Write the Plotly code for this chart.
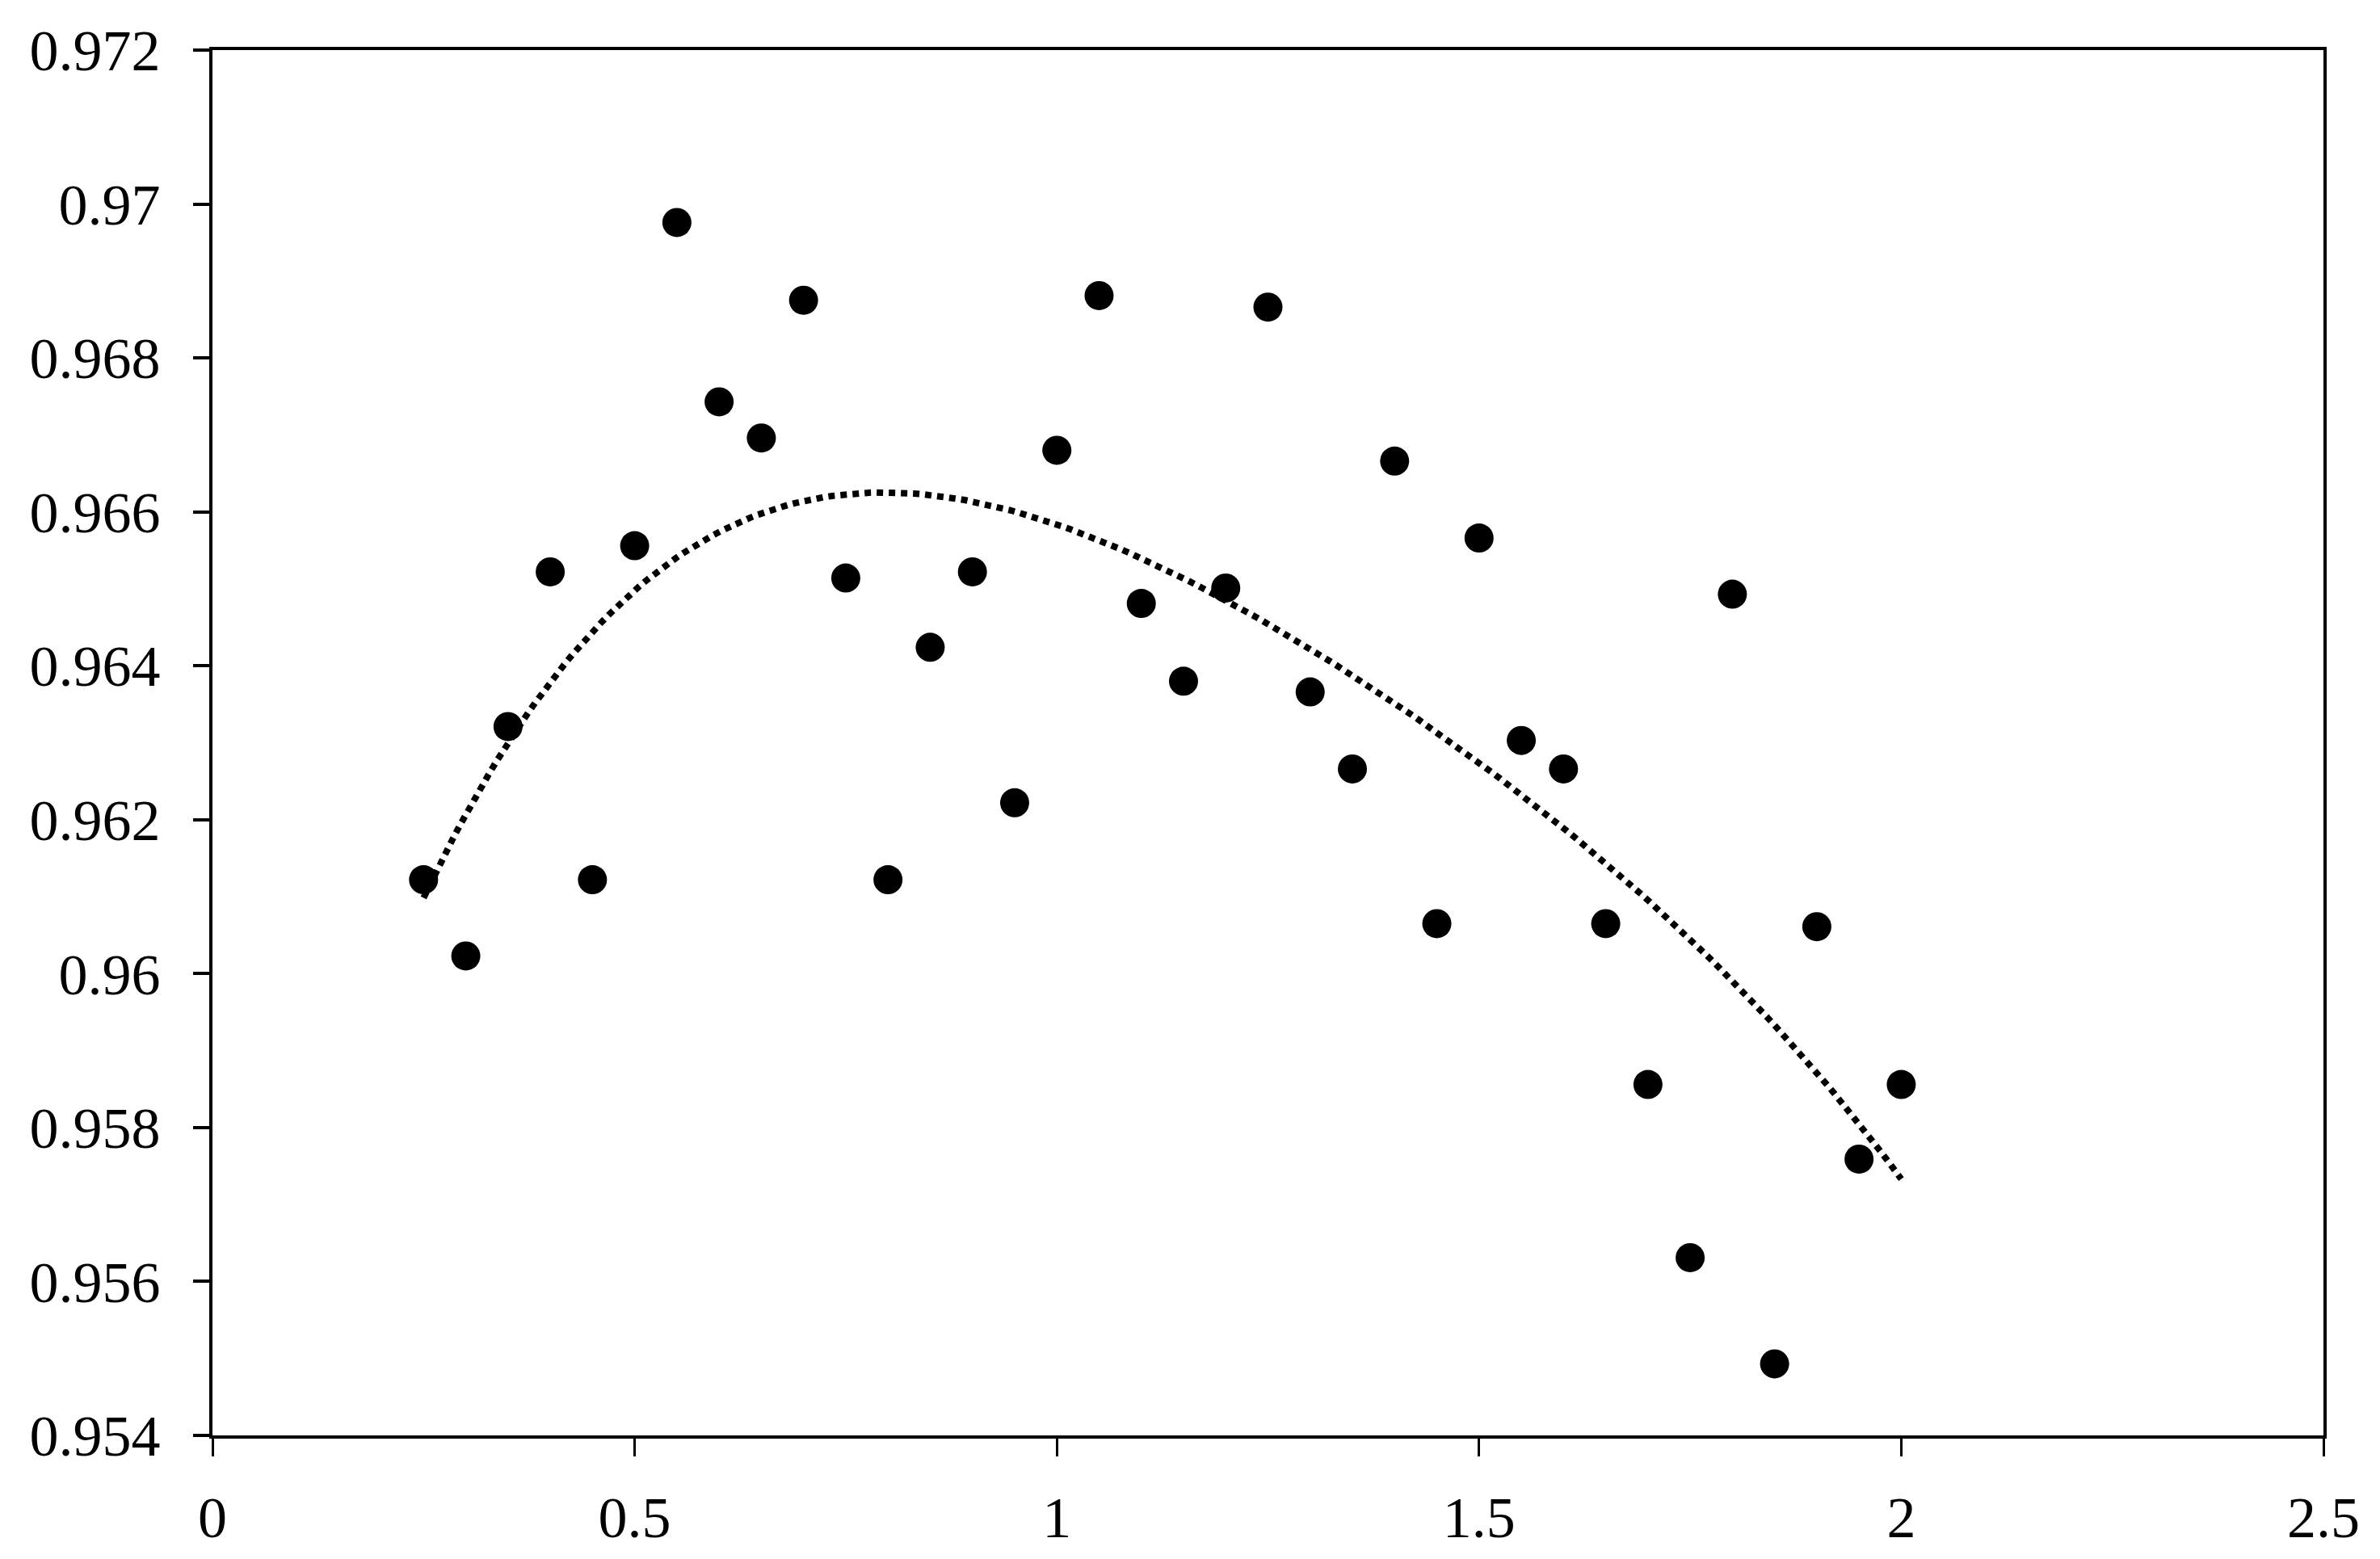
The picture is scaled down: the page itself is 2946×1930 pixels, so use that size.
import numpy as np
import plotly.graph_objects as go

# data
x_vals = [0.25, 0.30, 0.35, 0.40, 0.45, 0.50, 0.55, 0.60, 0.65, 0.70,
          0.75, 0.80, 0.85, 0.90, 0.95, 1.00, 1.05, 1.10, 1.15, 1.20,
          1.25, 1.30, 1.35, 1.40, 1.45, 1.50, 1.55, 1.60, 1.65, 1.70,
          1.75, 1.80, 1.85, 1.90, 1.95, 2.00]
y_vals = [0.96122, 0.96023, 0.96321, 0.96522, 0.96122, 0.96556, 0.96976, 0.96743, 0.96696, 0.96875,
          0.96514, 0.96122, 0.96424, 0.96522, 0.96222, 0.96680, 0.96881, 0.96481, 0.96380, 0.96501,
          0.96866, 0.96366, 0.96266, 0.96666, 0.96065, 0.96566, 0.96303, 0.96266, 0.96065, 0.95856,
          0.95631, 0.96493, 0.95493, 0.96061, 0.95759, 0.95856]

x_ticks = [0, 0.5, 1, 1.5, 2, 2.5]
y_ticks = [0.954, 0.956, 0.958, 0.96, 0.962, 0.964, 0.966, 0.968, 0.97, 0.972]

# polynomial trendline fitted to the points
coef = np.polyfit(x_vals, y_vals, 4)
x_fit = np.linspace(min(x_vals), max(x_vals), 200)
y_fit = np.polyval(coef, x_fit)

fig = go.Figure()

fig.add_trace(go.Scatter(
    x=x_fit, y=y_fit,
    mode='lines',
    line=dict(color='black', width=8, dash='8px,7px'),
    hoverinfo='skip'
))

fig.add_trace(go.Scatter(
    x=x_vals, y=y_vals,
    mode='markers',
    marker=dict(color='black', size=36),
))

axis_font = dict(family='Liberation Serif, Times New Roman, serif', size=72, color='black')

fig.update_layout(
    width=2946,
    height=1930,
    margin=dict(l=255, r=78, t=54, b=161),
    showlegend=False,
    plot_bgcolor='white',
    paper_bgcolor='white',
    xaxis=dict(
        range=[0, 2.5],
        tickvals=x_ticks,
        ticktext=[f'{v:g}' for v in x_ticks],
        showgrid=False, zeroline=False,
        showline=True, linecolor='black', linewidth=4, mirror=True,
        ticks='outside', ticklen=22, tickwidth=3, tickcolor='black',
        tickfont=axis_font,
        ticklabelstandoff=14,
    ),
    yaxis=dict(
        range=[0.954, 0.972],
        tickvals=y_ticks,
        ticktext=[f'{v:g}' for v in y_ticks],
        showgrid=False, zeroline=False,
        showline=True, linecolor='black', linewidth=4, mirror=True,
        ticks='outside', ticklen=20, tickwidth=4, tickcolor='black',
        tickfont=axis_font,
        ticklabelstandoff=26,
    ),
)

fig.write_html("out.html")
